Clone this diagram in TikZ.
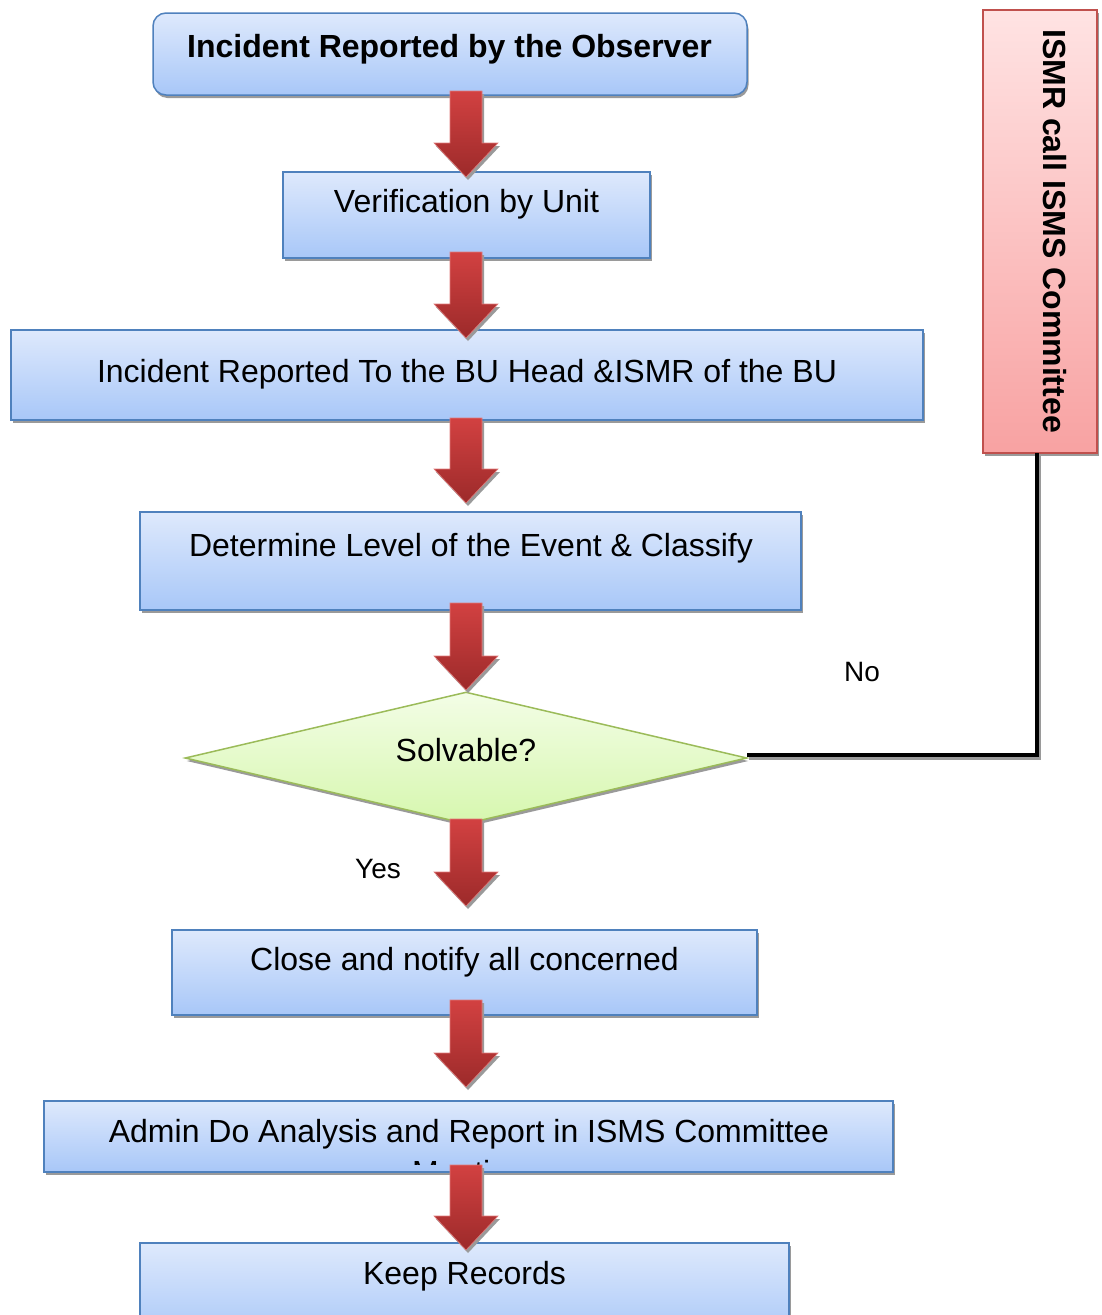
\documentclass[tikz,border=0pt]{standalone}
\usepackage{fontspec}
\setmainfont{Liberation Sans}
\usetikzlibrary{shapes.geometric,shadows,calc}
\definecolor{boxtop}{HTML}{DEE9FC}
\definecolor{boxbot}{HTML}{A8C7F8}
\definecolor{boxline}{HTML}{4F81BD}
\definecolor{redtop}{HTML}{FFE3E3}
\definecolor{redbot}{HTML}{F8A2A2}
\definecolor{redline}{HTML}{C0504D}
\definecolor{diatop}{HTML}{F3FDE6}
\definecolor{diabot}{HTML}{D6F7AE}
\definecolor{dialine}{HTML}{9BBB59}
\definecolor{arrtop}{HTML}{D24141}
\definecolor{arrbot}{HTML}{9C2A2A}
\definecolor{arrline}{HTML}{E07A7A}
\definecolor{shadowgray}{HTML}{9A9A9A}
\tikzset{
  boxshadow/.style={drop shadow={shadow xshift=1.5pt,shadow yshift=-3pt,fill=shadowgray,opacity=1}},
  flowbox/.style={draw=boxline,line width=1.5pt,top color=boxtop,bottom color=boxbot,inner sep=0pt,boxshadow},
  redbox/.style={draw=redline,line width=1.5pt,top color=redtop,bottom color=redbot,inner sep=0pt,boxshadow},
  diabox/.style={diamond,draw=dialine,line width=1.5pt,top color=diatop,bottom color=diabot,inner sep=0pt,boxshadow},
  txt/.style={inner sep=0pt,anchor=base,font=\fontsize{32}{37}\selectfont},
  btxt/.style={txt,font=\fontsize{32}{37}\selectfont\bfseries},
  lbl/.style={inner sep=0pt,font=\fontsize{28}{32}\selectfont},
  arrowstyle/.style={top color=arrtop,bottom color=arrbot,draw=arrline,line width=0.6pt,
    drop shadow={shadow xshift=2pt,shadow yshift=-3pt,fill=shadowgray,opacity=1}},
  conn/.style={line width=4pt,black,
    preaction={draw=shadowgray,line width=4pt,transform canvas={shift={(1.5pt,-3pt)}}}}
}
\newcommand{\blockarrow}[2]{%
  \path[arrowstyle] ($(#1)+(-16,0)$) -- ($(#1)+(16,0)$) -- ($(#2)+(16,-34)$)
    -- ($(#2)+(32,-34)$) -- (#2) -- ($(#2)+(-32,-34)$) -- ($(#2)+(-16,-34)$) -- cycle;}
\begin{document}
\begin{tikzpicture}[x=1pt,y=-1pt]
\clip (0,0) rectangle (1102,1315);
\fill[white] (0,0) rectangle (1102,1315);

% boxes
\node[flowbox,rounded corners=13pt,minimum width=594pt,minimum height=82pt] (b1) at (450,54) {};
\node[flowbox,minimum width=367pt,minimum height=86pt] (b2) at (466.5,215) {};
\node[flowbox,minimum width=912pt,minimum height=90pt] (b3) at (467,375) {};
\node[flowbox,minimum width=661pt,minimum height=98pt] (b4) at (470.5,561) {};
\node[diabox,minimum width=562pt,minimum height=132pt] (dia) at (466,758) {};
\node[flowbox,minimum width=585pt,minimum height=85pt] (b6) at (464.5,972.5) {};
\node[flowbox,minimum width=849pt,minimum height=71pt] (b7) at (468.5,1136.5) {};
\node[flowbox,minimum width=649pt,minimum height=97pt] (b8) at (464.5,1291.5) {};
\node[redbox,minimum width=114pt,minimum height=443pt] (red) at (1040,231.5) {};

% texts
\node[btxt] (t1) at (449.5,57) {Incident Reported by the Observer};
\node[txt] (t2) at (466.5,212) {Verification by Unit};
\node[txt] (t3) at (467,382) {Incident Reported To the BU Head \&ISMR of the BU};
\node[txt] (t4) at (471,556) {Determine Level of the Event \& Classify};
\node[txt] (t5) at (466,761) {Solvable?};
\node[txt] (t6) at (464.5,970) {Close and notify all concerned};
\node[txt] (t7) at (469,1142) {Admin Do Analysis and Report in ISMS Committee};
\begin{scope}
  \clip (44,1101) rectangle (893,1164);
  \node[txt] (t7b) at (469,1183) {Meeting};
\end{scope}
\node[txt] (t8) at (464.5,1284) {Keep Records};
\node[inner sep=0pt,rotate=-90,font=\fontsize{32}{37}\selectfont\bfseries] (tred) at (1055,231) {ISMR call ISMS Committee};

% connector
\coordinate (corner) at (1037,755);
\coordinate (rs) at (1037,453);
\coordinate (de) at (747,755);
\draw[conn] (rs) -- (corner) -- (de);
\node[lbl] (no) at (862,672) {No};
\node[lbl] (yes) at (378,869) {Yes};

% block arrows
\coordinate (a1s) at (466,91);   \coordinate (a1e) at (466,177);
\coordinate (a2s) at (466,252);  \coordinate (a2e) at (466,338);
\coordinate (a3s) at (466,418);  \coordinate (a3e) at (466,503);
\coordinate (a4s) at (466,603);  \coordinate (a4e) at (466,690);
\coordinate (a5s) at (466,819);  \coordinate (a5e) at (466,906);
\coordinate (a6s) at (466,1000); \coordinate (a6e) at (466,1087);
\coordinate (a7s) at (466,1165); \coordinate (a7e) at (466,1250);
\blockarrow{a1s}{a1e}
\blockarrow{a2s}{a2e}
\blockarrow{a3s}{a3e}
\blockarrow{a4s}{a4e}
\blockarrow{a5s}{a5e}
\blockarrow{a6s}{a6e}
\blockarrow{a7s}{a7e}
\end{tikzpicture}
\end{document}
